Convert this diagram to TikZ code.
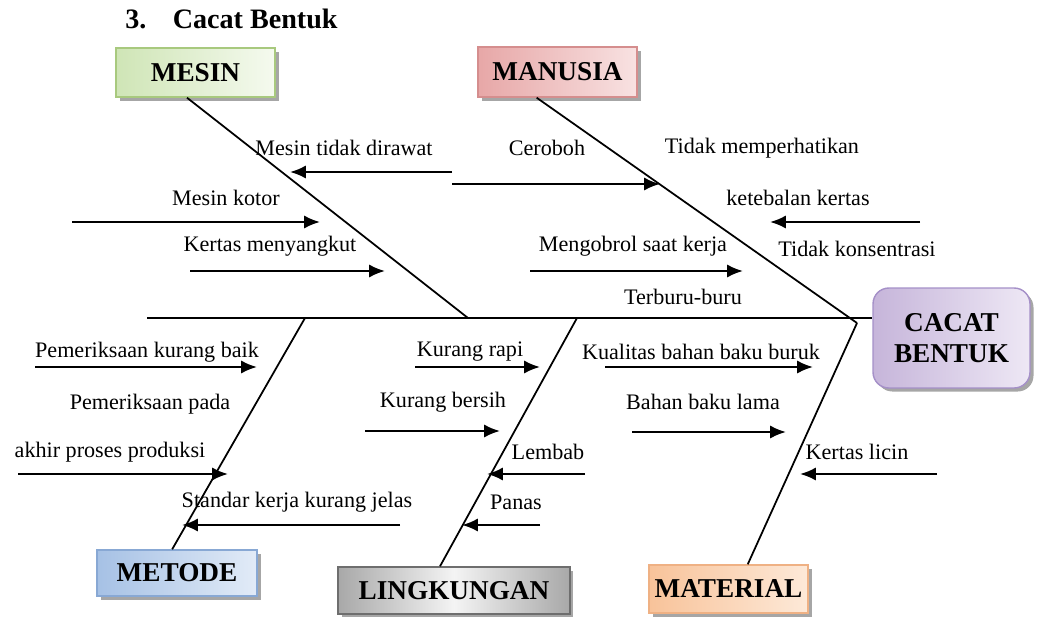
\documentclass[tikz,border=0pt]{standalone}
\usepackage{fontspec}
\setmainfont{Liberation Serif}
\usetikzlibrary{arrows.meta,calc,shadows}
\definecolor{mesinD}{HTML}{CFE5B6}
\definecolor{mesinL}{HTML}{F5FAEF}
\definecolor{mesinB}{HTML}{A8C97E}
\definecolor{manD}{HTML}{E7A7A7}
\definecolor{manL}{HTML}{F8E2E2}
\definecolor{manB}{HTML}{D58E8E}
\definecolor{metD}{HTML}{A6C1E5}
\definecolor{metL}{HTML}{E2EBF7}
\definecolor{metB}{HTML}{88A8D4}
\definecolor{linD}{HTML}{A8A8A8}
\definecolor{linL}{HTML}{F4F4F4}
\definecolor{linB}{HTML}{6E6E6E}
\definecolor{matD}{HTML}{F8C39A}
\definecolor{matL}{HTML}{FDE9D8}
\definecolor{matB}{HTML}{EFB184}
\definecolor{akD}{HTML}{C6B5DA}
\definecolor{akL}{HTML}{EEE8F5}
\definecolor{akB}{HTML}{A590C8}
\tikzset{
  arr/.style={-{Latex[length=9pt,width=7.5pt]},black,line width=1.3pt},
  bone/.style={black,line width=1pt},
  lbl/.style={font=\fontsize{12.6}{14}\selectfont,inner sep=0pt},
  box/.style={draw,line width=0.8pt,inner sep=0pt,
    font=\fontsize{15.5}{18}\selectfont\bfseries,
    drop shadow={shadow xshift=2pt,shadow yshift=-2pt,fill=black!35,opacity=1}},
}

\begin{document}
\begin{tikzpicture}[x=0.02cm,y=-0.02cm]
  \useasboundingbox (0,0) rectangle (1042,616);
  \node[anchor=base west,inner sep=0pt,font=\fontsize{16}{19}\selectfont\bfseries]
    (judul) at (125,28) {3.\hspace{15pt}Cacat Bentuk};

  % kotak kategori
  \node[box,left color=mesinD,right color=mesinL,draw=mesinB,
    minimum width=3.18cm,minimum height=0.98cm] (mesin) at (195.5,72.5) {MESIN};
  \node[box,left color=manD,right color=manL,draw=manB,
    minimum width=3.18cm,minimum height=1.0cm] (manusia) at (557.5,72) {MANUSIA};
  \node[box,left color=metD,right color=metL,draw=metB,
    minimum width=3.2cm,minimum height=0.92cm] (metode) at (177,573) {METODE};
  \node[box,left color=linD,right color=linD,middle color=linL,draw=linB,
    minimum width=4.64cm,minimum height=0.94cm] (lingkungan) at (454,590.5) {LINGKUNGAN};
  \node[box,left color=matD,right color=matL,draw=matB,
    minimum width=3.18cm,minimum height=0.96cm] (material) at (728.5,589) {MATERIAL};
  \node[box,rounded corners=9pt,left color=akD,right color=akL,draw=akB,
    minimum width=3.14cm,minimum height=2.0cm,align=center] (cacat) at (951.5,338) {CACAT\\BENTUK};

  % tulang utama
  \coordinate (ekor) at (147,318);
  \draw[bone] (ekor) -- (ekor -| cacat.west);
  \coordinate (jMesin) at (468,318);
  \coordinate (jManusia) at (857,323);
  \coordinate (jMetode) at (305,318);
  \coordinate (jLing) at (577,318);
  \draw[bone] ($(mesin.south west)!0.447!(mesin.south east)$) -- (jMesin);
  \draw[bone] ($(manusia.south west)!0.37!(manusia.south east)$) -- (jManusia);
  \draw[bone] ($(metode.north west)!0.47!(metode.north east)$) -- (jMetode);
  \draw[bone] ($(lingkungan.north west)!0.44!(lingkungan.north east)$) -- (jLing);
  \draw[bone] ($(material.north west)!0.62!(material.north east)$) -- (jManusia);

  % panah sebab
  \foreach \n/\xa/\xb/\y in {a1/452/290/172, a2/452/660/184, a3/920/770/222,
      a4/72/320/222, a5/190/385/271, a6/530/743/271, a7/35/257/367,
      a8/18/228/474, a9/400/182/525, a10/415/540/367, a11/365/500/431,
      a12/585/487/474, a13/540/462/525, a14/605/813/367, a15/632/786/432,
      a16/937/800/474} {
    \coordinate (\n-s) at (\xa,\y);
    \coordinate (\n-e) at (\xb,\y);
    \draw[arr] (\n-s) -- (\n-e);
  }

  % teks sebab
  \foreach \n/\x/\y/\t in {t1/344/148/{Mesin tidak dirawat}, t2/547/148/Ceroboh,
      t3/762/148/{Tidak memperhatikan}, t4/798/198/{ketebalan kertas},
      t5/226/198/{Mesin kotor}, t6/270/246/{Kertas menyangkut},
      t7/633/246/{Mengobrol saat kerja}, t8/857/249/{Tidak konsentrasi},
      t9/683/297/{Terburu-buru}, t10/147/352/{Pemeriksaan kurang baik},
      t11/150/404/{Pemeriksaan pada}, t12/110/452/{akhir proses produksi},
      t13/297/502/{Standar kerja kurang jelas}, t14/470/352/{Kurang rapi},
      t15/443/402/{Kurang bersih}, t16/548/452/Lembab, t17/516/502/Panas,
      t18/701/352/{Kualitas bahan baku buruk}, t19/703/402/{Bahan baku lama},
      t20/857/452/{Kertas licin}} {
    \node[lbl] (\n) at (\x,\y) {\t};
  }
\end{tikzpicture}
\end{document}
